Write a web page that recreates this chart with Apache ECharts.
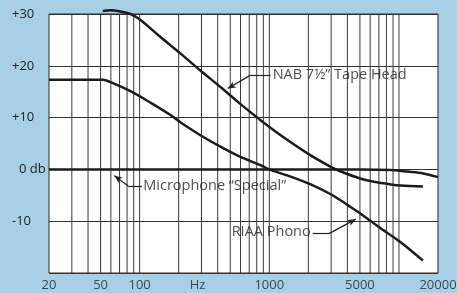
<!DOCTYPE html>
<html>
<head>
<meta charset="utf-8">
<script src="https://cdn.jsdelivr.net/npm/echarts@6/dist/echarts.min.js"></script>
<style>
html,body{margin:0;padding:0;background:#a9cfe7;}
#c{width:457px;height:293px;}
</style>
</head>
<body>
<div id="c"></div>
<script>
// ---- data (frequency in Hz, response in dB) ----
const nabFreq = [52, 59, 71, 85, 101, 144, 206, 294, 420, 600, 857, 1224, 2087, 2980, 3561, 5085, 6400, 8674, 10370, 15300];
const nabDb   = [30.6, 30.7, 30.5, 30.0, 28.9, 25.6, 22.4, 19.1, 15.9, 12.6, 9.5, 6.6, 2.7, 0.5, -0.4, -1.8, -2.4, -2.9, -3.1, -3.3];

const riaaFreq = [20, 41.5, 52, 59, 85, 121, 173, 206, 294, 420, 600, 857, 1024, 1462, 2087, 2980, 3561, 4256, 5085, 7260, 10370, 15300];
const riaaDb   = [17.3, 17.3, 17.3, 16.9, 15.1, 12.9, 10.5, 9.1, 6.6, 4.4, 2.4, 0.8, -0.1, -1.4, -2.9, -4.8, -6.0, -7.3, -8.6, -11.4, -14.1, -17.6];

const micFreq = [20, 1000, 5000, 8700, 10400, 14800, 20000];
const micDb   = [0, 0, 0, -0.1, -0.3, -0.7, -1.5];

const xTickValues = [20, 50, 100, 280, 1000, 5000, 20000];
const xTickLabels = ['20', '50', '100', 'Hz', '1000', '5000', '20000'];

const yTickValues = [30, 20, 10, 0, -10];
const yTickLabels = ['+30', '+20', '+10', '0 db', '-10'];

const vGridValues = [30, 40, 50, 60, 70, 80, 90, 100, 200, 300, 400, 500, 600, 700, 800, 900, 1000,
                     2000, 3000, 4000, 5000, 6000, 7000, 8000, 9000, 10000];

// annotations: text, anchor [freq, dB], label side
const annTexts = ['NAB 7\u00BD\u201D Tape Head', 'Microphone \u201CSpecial\u201D', 'RIAA Phono'];
const annAnchors = [[1061, 18.2], [106.6, -3.2], [2087, -12.1]];
const annSides = ['right', 'right', 'left'];
// leader polylines: horizontal segment then arrow segment
const annLeaders = [
  [[1022, 18.2], [717, 18.2], [478, 15.6]],
  [[104, -3.2], [81.6, -3.2], [63.7, -1.2]],
  [[2160, -12.4], [2884, -12.4], [4650, -9.6]]
];

const pair = (xs, ys) => xs.map((x, i) => [x, ys[i]]);

const FONT = '"Open Sans", "DejaVu Sans", sans-serif';
const TXT = '#202428';

const leaderLines = [];
annLeaders.forEach(p => {
  leaderLines.push([{coord: p[0], symbol: 'none'}, {coord: p[1], symbol: 'none'}]);
  leaderLines.push([{coord: p[1], symbol: 'none'}, {coord: p[2], symbol: 'arrow', symbolSize: [5, 8]}]);
});

// vertical grid lines as one broken line series (drawn beneath the curves)
const vGridData = [];
vGridValues.forEach(v => { vGridData.push([v, -20], [v, 30], '-'); });

const chart = echarts.init(document.getElementById('c'), null, {renderer: 'canvas'});
chart.setOption({
  animation: false,
  backgroundColor: '#a9cfe7',
  grid: {left: 49, right: 19, top: 14, bottom: 20, show: true, backgroundColor: '#ffffff', borderColor: '#2a2a2a', borderWidth: 1},
  xAxis: {
    type: 'log', logBase: 10, min: 20, max: 20000,
    axisLine: {show: false}, axisTick: {show: false}, axisLabel: {show: false},
    splitLine: {show: false}, minorSplitLine: {show: false}
  },
  yAxis: {
    type: 'value', min: -20, max: 30, interval: 10,
    axisLine: {show: false}, axisTick: {show: false},
    splitLine: {show: true, lineStyle: {color: '#333', width: 1}},
    axisLabel: {
      align: 'left', margin: 37, color: TXT, fontFamily: FONT, fontSize: 13,
      formatter: v => {
        const i = yTickValues.indexOf(v);
        if (i < 0) return '';
        return v === 0 ? '{z|' + yTickLabels[i] + '}' : yTickLabels[i];
      },
      rich: {z: {padding: [0, 0, 0, 7], color: TXT, fontFamily: FONT, fontSize: 13}}
    }
  },
  series: [
    {
      type: 'line', data: vGridData, z: 1, silent: true, showSymbol: false,
      connectNulls: false,
      lineStyle: {color: '#3a3a3a', width: 1}
    },
    {
      name: 'Microphone', type: 'line', data: pair(micFreq, micDb), z: 3,
      showSymbol: false, smooth: 0.3, clip: false,
      lineStyle: {color: '#1c1c1c', width: 2.5}
    },
    {
      name: 'NAB', type: 'line', data: pair(nabFreq, nabDb), z: 3,
      showSymbol: false, smooth: 0.3, clip: false,
      lineStyle: {color: '#1c1c1c', width: 2.5}
    },
    {
      name: 'RIAA', type: 'line', data: pair(riaaFreq, riaaDb), z: 3,
      showSymbol: false, smooth: 0.3, clip: false,
      lineStyle: {color: '#1c1c1c', width: 2.5}
    },
    {
      type: 'scatter', z: 4, silent: true, symbolSize: 0, clip: false,
      data: annAnchors.map((a, i) => ({
        value: a,
        label: {show: true, position: annSides[i], distance: 0, formatter: annTexts[i],
                color: TXT, fontFamily: FONT, fontSize: 14.5}
      })),
      markLine: {
        z: 5,
        silent: true, animation: false, label: {show: false},
        lineStyle: {color: '#222', width: 1.2, type: 'solid'},
        data: leaderLines
      }
    },
    {
      type: 'scatter', z: 4, silent: true, symbolSize: 0, clip: false,
      data: xTickValues.map((v, i) => ({
        value: [v, -20],
        label: {show: true, position: 'bottom', distance: 6, formatter: xTickLabels[i],
                color: TXT, fontFamily: FONT, fontSize: 13}
      }))
    }
  ]
});
</script>
</body>
</html>
